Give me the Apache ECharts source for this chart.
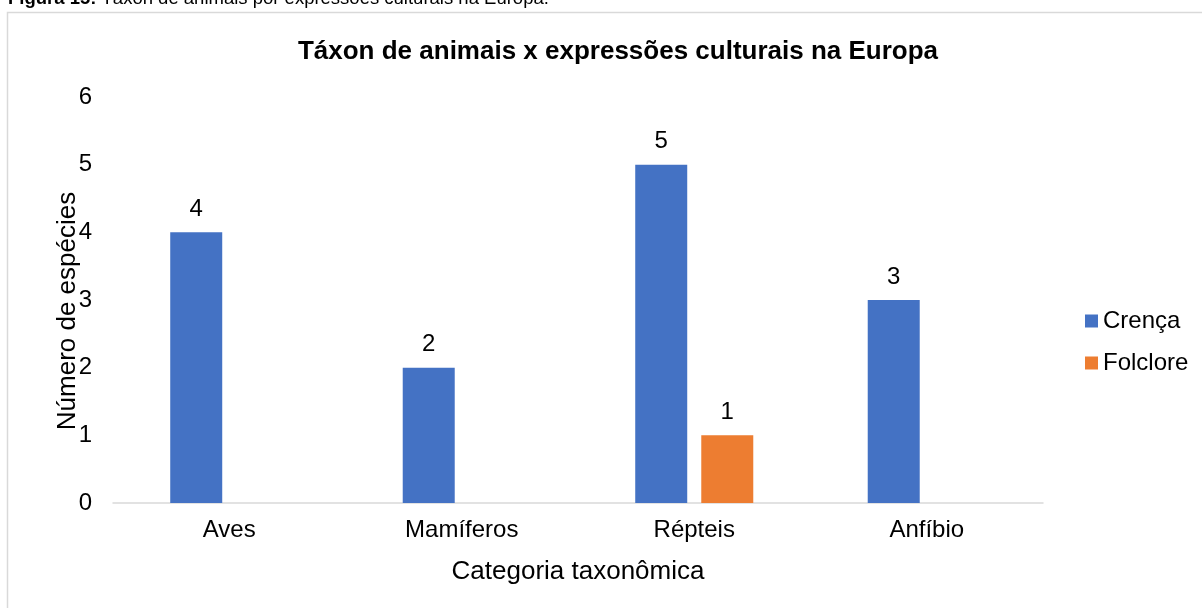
<!DOCTYPE html>
<html>
<head>
<meta charset="utf-8">
<script src="https://cdn.jsdelivr.net/npm/echarts@6/dist/echarts.min.js"></script>
<style>
  html, body { margin: 0; padding: 0; background: #fff; }
  #chart { width: 1202px; height: 608px; }
</style>
</head>
<body>
<div id="chart"></div>
<script>
// Taxonomic groups and the number of species per cultural expression
const categories = ['Aves', 'Mamíferos', 'Répteis', 'Anfíbio'];
const crenca = [4, 2, 5, 3];
const folclore = [null, null, 1, null];
const yTicks = [0, 1, 2, 3, 4, 5, 6];

const FONT = 'Liberation Sans, Arial, sans-serif';

const chart = echarts.init(document.getElementById('chart'), null, { renderer: 'canvas' });

const valueLabel = {
  show: true,
  position: 'top',
  distance: 11,
  color: '#000',
  fontFamily: FONT,
  fontSize: 24
};

chart.setOption({
  animation: false,
  backgroundColor: '#fff',
  title: {
    text: 'Táxon de animais x expressões culturais na Europa',
    left: 613,
    textAlign: 'center',
    top: 34,
    textStyle: { fontFamily: FONT, fontSize: 26, fontWeight: 'bold', color: '#000' }
  },
  graphic: [
    {
      type: 'rect',
      shape: { x: 7.5, y: 12.5, width: 1300, height: 700 },
      style: { fill: 'none', stroke: '#d9d9d9', lineWidth: 1.5 },
      silent: true
    },
    {
      type: 'text',
      left: 8,
      top: -11,
      style: {
        text: '{b|Figura 15:} Táxon de animais por expressões culturais na Europa.',
        fontFamily: FONT,
        fontSize: 18.5,
        fill: '#000',
        rich: { b: { fontFamily: FONT, fontSize: 18.5, fontWeight: 'bold', fill: '#000' } }
      },
      silent: true
    }
  ],
  legend: {
    orient: 'vertical',
    left: 1080,
    top: 304,
    itemWidth: 13,
    itemHeight: 13,
    itemGap: 18,
    icon: 'rect',
    textStyle: { fontFamily: FONT, fontSize: 24, color: '#000' },
    data: ['Crença', 'Folclore']
  },
  grid: { left: 113, right: 159, top: 97, bottom: 105 },
  xAxis: {
    type: 'category',
    data: categories,
    name: 'Categoria taxonômica',
    nameLocation: 'middle',
    nameGap: 56,
    nameMoveOverlap: false,
    nameTextStyle: { fontFamily: FONT, fontSize: 26, color: '#000' },
    axisLine: { lineStyle: { color: '#d9d9d9', width: 1.5 } },
    axisTick: { show: false },
    axisLabel: { fontFamily: FONT, fontSize: 24, color: '#000', margin: 15 }
  },
  yAxis: {
    type: 'value',
    min: yTicks[0],
    max: yTicks[yTicks.length - 1],
    interval: 1,
    name: 'Número de espécies',
    nameLocation: 'middle',
    nameGap: 32,
    nameMoveOverlap: false,
    nameTextStyle: { fontFamily: FONT, fontSize: 26, color: '#000', padding: [0, 22, 0, 0] },
    axisLine: { show: false },
    axisTick: { show: false },
    splitLine: { show: false },
    axisLabel: { fontFamily: FONT, fontSize: 24, color: '#000', margin: 21 }
  },
  series: [
    {
      name: 'Crença',
      type: 'bar',
      data: crenca,
      barWidth: 52,
      barGap: '27%',
      itemStyle: { color: '#4472C4' },
      label: valueLabel
    },
    {
      name: 'Folclore',
      type: 'bar',
      data: folclore,
      barWidth: 52,
      itemStyle: { color: '#ED7D31' },
      label: valueLabel
    }
  ]
});
</script>
</body>
</html>
